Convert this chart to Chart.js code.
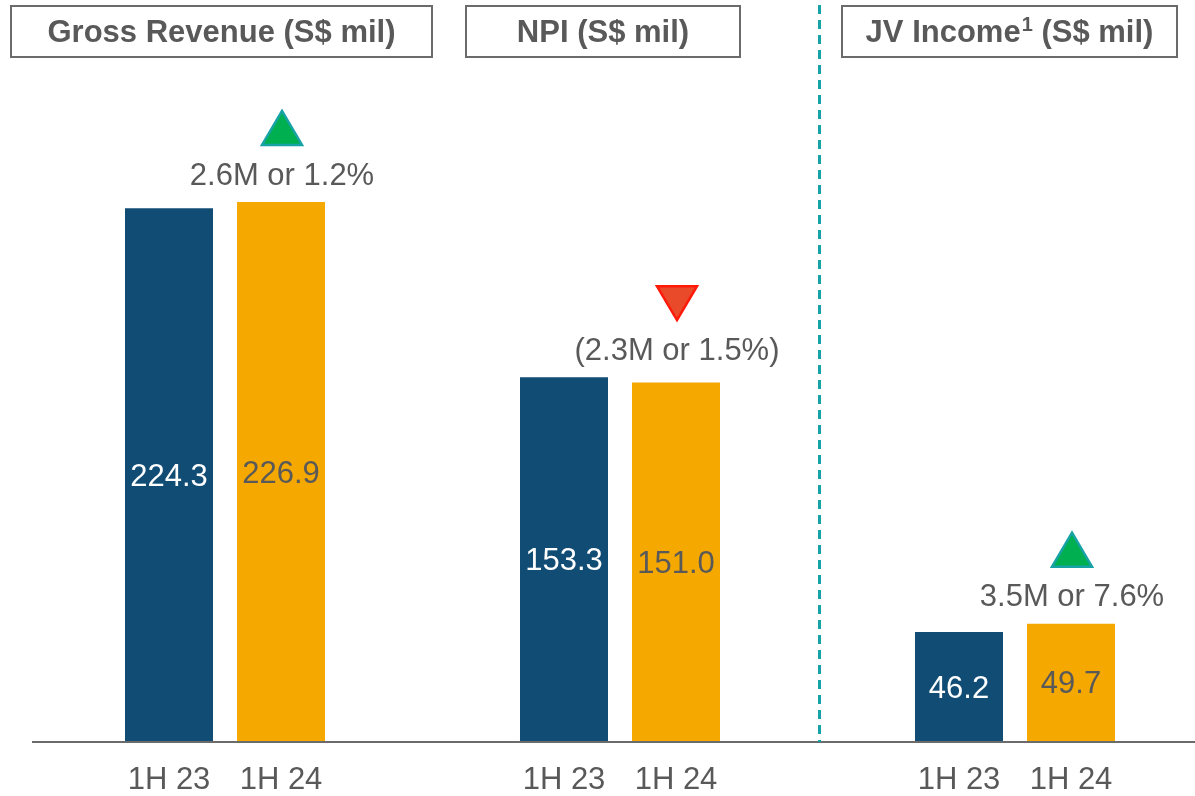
<!DOCTYPE html>
<html>
<head>
<meta charset="utf-8">
<script src="https://cdn.jsdelivr.net/npm/chart.js@4.4.1/dist/chart.umd.min.js"></script>
<style>
  body { margin: 0; background: #fff; }
  canvas { display: block; }
</style>
</head>
<body>
<canvas id="perfChart" width="1195" height="796"></canvas>
<script>
// Chart data
const groupTitles = ['Gross Revenue (S$ mil)', 'NPI (S$ mil)', 'JV Income^1 (S$ mil)'];
const periods = ['1H 23', '1H 24'];
const values1H23 = [224.3, 153.3, 46.2];
const values1H24 = [226.9, 151.0, 49.7];
const changeLabels = ['2.6M or 1.2%', '(2.3M or 1.5%)', '3.5M or 7.6%'];
const changeUp = [true, false, true];

const NAVY = '#114c75';
const ORANGE = '#f5a800';
const GREY = '#595959';
const FONT = '"Liberation Sans", Arial, sans-serif';

// Title text with an optional ^superscript part
function drawTitle(ctx, text, cx, cy) {
    const m = text.match(/^(.*)\^(\S+)(.*)$/);
    if (!m) {
        ctx.textAlign = 'center';
        ctx.fillText(text, cx, cy);
        return;
    }
    const big = 'bold 31px ' + FONT, small = 'bold 20px ' + FONT;
    ctx.font = big;
    const w1 = ctx.measureText(m[1]).width;
    const w3 = ctx.measureText(m[3]).width;
    ctx.font = small;
    const w2 = ctx.measureText(m[2]).width + 1;
    let left = cx - (w1 + w2 + w3) / 2;
    ctx.textAlign = 'left';
    ctx.font = big;
    ctx.fillText(m[1], left, cy);
    ctx.font = small;
    ctx.fillText(m[2], left + w1 + 1, cy - 8);
    ctx.font = big;
    ctx.fillText(m[3], left + w1 + w2, cy);
}

// Draw labels, boxes and markers on top of bars
const annotate = {
    id: 'annotate',
    afterDatasetsDraw(chart) {
        const ctx = chart.ctx;
        const area = chart.chartArea;
        const x = chart.scales.x;
        const y = chart.scales.y;
        const base = y.getPixelForValue(0);
        const metas = [chart.getDatasetMeta(0), chart.getDatasetMeta(1)];

        ctx.save();

        // baseline
        ctx.strokeStyle = '#6b6b6b';
        ctx.lineWidth = 2;
        ctx.beginPath();
        ctx.moveTo(area.left, base);
        ctx.lineTo(area.right, base);
        ctx.stroke();

        // dashed divider between NPI and JV
        const divX = x.getPixelForValue(1.5) + 2;
        ctx.strokeStyle = '#16a3a8';
        ctx.lineWidth = 3;
        ctx.setLineDash([9, 6]);
        ctx.beginPath();
        ctx.moveTo(divX, 5);
        ctx.lineTo(divX, base);
        ctx.stroke();
        ctx.setLineDash([]);

        ctx.textAlign = 'center';
        ctx.textBaseline = 'middle';
        ctx.font = '31px ' + FONT;

        // values inside bars + period labels
        metas.forEach((meta, d) => {
            meta.data.forEach((bar, i) => {
                const val = chart.data.datasets[d].data[i].y;
                ctx.fillStyle = d === 0 ? '#ffffff' : GREY;
                ctx.fillText(val.toFixed(1), bar.x, (bar.y + bar.base) / 2 + 2);
                ctx.fillStyle = GREY;
                ctx.fillText(periods[d], bar.x, base + 38);
            });
        });

        // change labels and triangles
        changeLabels.forEach((txt, i) => {
            const b0 = metas[0].data[i];
            const b1 = metas[1].data[i];
            const top = Math.min(b0.y, b1.y);
            const cx = b1.x + 1;
            ctx.fillStyle = GREY;
            ctx.fillText(txt, cx, top - 26);

            const tb = top - 57;
            const h = 34, w = 40;
            ctx.beginPath();
            if (changeUp[i]) {
                ctx.moveTo(cx, tb - h);
                ctx.lineTo(cx + w / 2, tb);
                ctx.lineTo(cx - w / 2, tb);
                ctx.fillStyle = '#00b050';
                ctx.strokeStyle = '#17a2a6';
            } else {
                ctx.moveTo(cx - w / 2, tb - h);
                ctx.lineTo(cx + w / 2, tb - h);
                ctx.lineTo(cx, tb);
                ctx.fillStyle = '#e84a2a';
                ctx.strokeStyle = '#ff1a0a';
            }
            ctx.closePath();
            ctx.lineWidth = 2.5;
            ctx.fill();
            ctx.stroke();
        });

        // title boxes
        const boxes = [{ left: 11, width: 421 }, { left: 466, width: 274 }, { left: 842, width: 335 }];
        ctx.font = 'bold 31px ' + FONT;
        groupTitles.forEach((t, i) => {
            const bx = boxes[i];
            ctx.fillStyle = '#ffffff';
            ctx.fillRect(bx.left, 6, bx.width, 51);
            ctx.strokeStyle = '#6b6b6b';
            ctx.lineWidth = 2;
            ctx.strokeRect(bx.left, 6, bx.width, 51);
            ctx.fillStyle = GREY;
            drawTitle(ctx, t, bx.left + bx.width / 2, 33);
        });

        ctx.restore();
    }
};

function initChart() {
    const ctx = document.getElementById('perfChart').getContext('2d');
    new Chart(ctx, {
        type: 'bar',
        data: {
            datasets: [
                {
                    label: periods[0],
                    data: values1H23.map((v, i) => ({ x: i, y: v })),
                    backgroundColor: NAVY,
                    borderWidth: 0
                },
                {
                    label: periods[1],
                    data: values1H24.map((v, i) => ({ x: i, y: v })),
                    backgroundColor: ORANGE,
                    borderWidth: 0
                }
            ]
        },
        options: {
            responsive: false,
            animation: false,
            categoryPercentage: 224 / 395,
            barPercentage: 88 / 112,
            layout: { padding: { top: 28, bottom: 54, left: 32, right: 0 } },
            scales: {
                x: {
                    type: 'linear',
                    display: false,
                    offset: false,
                    min: -0.4886,
                    max: 2.4557,
                    afterBuildTicks: s => { s.ticks = [0, 1, 2].map(v => ({ value: v })); }
                },
                y: {
                    display: false,
                    min: 0,
                    max: 300
                }
            },
            plugins: {
                legend: { display: false },
                tooltip: { enabled: false }
            }
        },
        plugins: [annotate]
    });
}

document.addEventListener('DOMContentLoaded', initChart);
</script>
</body>
</html>
